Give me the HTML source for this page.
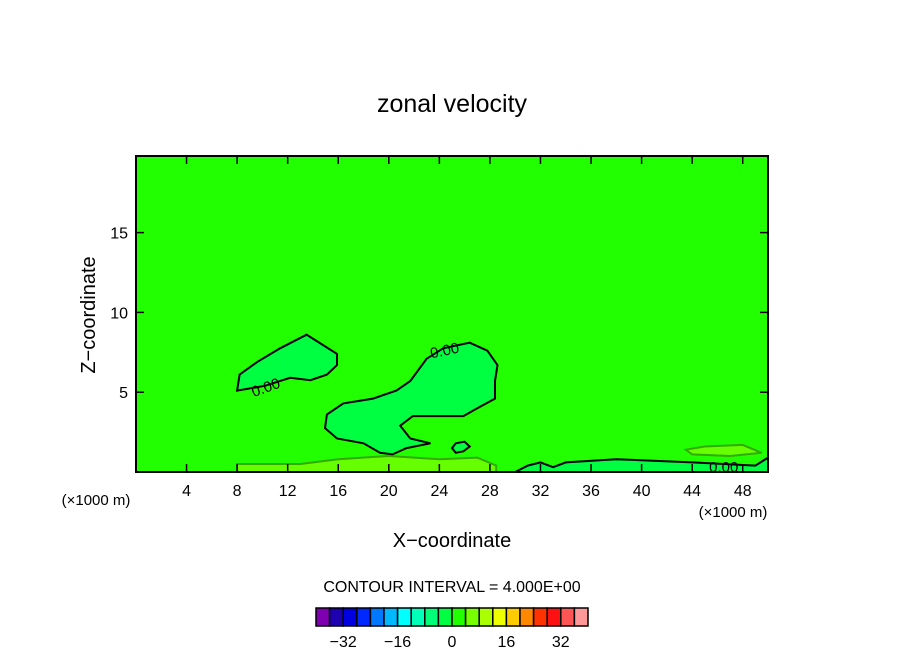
<!DOCTYPE html>
<html><head><meta charset="utf-8"><style>
html,body{margin:0;padding:0;background:#fff;}
svg text{font-family:"Liberation Sans",sans-serif;fill:#000;}
</style></head><body>
<svg id="chart" width="904" height="654" viewBox="0 0 904 654">
<text x="452" y="112" font-size="25" text-anchor="middle">zonal velocity</text>
<g id="plot"></g>
<text x="452" y="547" font-size="20" text-anchor="middle">X−coordinate</text>
<text x="95" y="315" font-size="20" text-anchor="middle" transform="rotate(-90 95 315)">Z−coordinate</text>
<text x="96" y="505" font-size="15" text-anchor="middle">(×1000 m)</text>
<text x="733" y="517" font-size="15" text-anchor="middle">(×1000 m)</text>
<text x="452" y="592" font-size="16" text-anchor="middle">CONTOUR INTERVAL = 4.000E+00</text>
<g id="cbar"></g>
</svg>
<script>
const xTicks=[4,8,12,16,20,24,28,32,36,40,44,48];
const yTicks=[5,10,15];
const cbColors=["#7f00b0","#1f00b0","#0000e0","#0028ff","#0078ff","#00b8ff","#00ffff","#00ffb8","#00ff78","#00ff40","#22ff00","#77ff00","#aaff00","#eeff00","#ffcc00","#ff8800","#ff3300","#ff1111","#ff5555","#ff9999"];
const cbLabels=[-32,-16,0,16,32];
const blobLeft=[[8.0,5.1],[8.2,6.1],[9.6,6.9],[11.4,7.75],[13.5,8.6],[14.3,8.2],[15.9,7.4],[15.9,6.7],[15.1,6.1],[13.8,5.75],[12.2,5.9],[10.2,5.4]];
const blobMid=[[23.0,7.1],[21.7,5.7],[20.6,5.1],[18.75,4.6],[16.4,4.3],[15.1,3.6],[14.95,2.75],[15.9,2.1],[18.0,1.8],[19.3,1.2],[20.3,1.1],[21.4,1.5],[23.3,1.8],[21.7,2.1],[20.9,2.9],[21.9,3.5],[25.9,3.5],[27.0,4.0],[28.4,4.6],[28.4,5.7],[28.6,6.7],[27.8,7.6],[26.4,8.1],[24.3,7.75]];
const blobSmall=[[25.3,1.2],[25.9,1.3],[26.4,1.6],[26.0,1.9],[25.3,1.8],[25.0,1.5]];
const bandLeft=[[8,0],[8,0.5],[13,0.5],[16,0.8],[20,1.0],[24,0.8],[27,0.9],[28.5,0.4],[28.5,0]];
const bandRight=[[30,0],[31,0.4],[32,0.6],[33,0.3],[34,0.6],[38,0.8],[44,0.6],[49,0.4],[50,0.9],[50,0]];
const bandRight2=[[43.5,1.4],[45,1.6],[48,1.7],[49.5,1.2],[47,1.0],[44,1.1]];
const xMin=0,xMax=50,yMin=0,yMax=19.8;
const L=136,R=768,T=156,B=472;
function sx(v){return L+(v-xMin)/(xMax-xMin)*(R-L);}
function sy(v){return B-(v-yMin)/(yMax-yMin)*(B-T);}
const NS="http://www.w3.org/2000/svg";
const plot=document.getElementById('plot');
function mk(tag,attrs,parent){const e=document.createElementNS(NS,tag);for(const k in attrs)e.setAttribute(k,attrs[k]);parent.appendChild(e);return e;}
let r=mk('rect',{x:L,y:T,width:R-L,height:B-T,fill:'#22ff00'},plot);


function poly(pts,fill,stroke,name){const d='M'+pts.map(p=>sx(p[0]).toFixed(1)+','+sy(p[1]).toFixed(1)).join('L')+'Z';const p=mk('path',{d:d,fill:fill,stroke:stroke,'stroke-width':2},plot);

}
poly(bandLeft,'#66ff00','#33aa00','bottom-band-positive');
poly(bandRight,'#00ff40','#000','bottom-band-negative');
poly(bandRight2,'#66ff00','#33aa00','bottom-band-right');
poly(blobLeft,'#00ff40','#000','contour-blob-left');
poly(blobMid,'#00ff40','#000','contour-blob-center');
poly(blobSmall,'#00ff40','#000','contour-blob-small');
function lbl(x,y,rot,name){const t=mk('text',{x:sx(x),y:sy(y),'font-size':15,'text-anchor':'middle',transform:'rotate('+rot+' '+sx(x)+' '+sy(y)+')'},plot);t.textContent='0.00';

}
lbl(10.4,5.0,-20,'contour-label-left');
lbl(24.5,7.3,-12,'contour-label-center');
lbl(46.5,0.0,0,'contour-label-right');
let fr=mk('rect',{x:L,y:T,width:R-L,height:B-T,fill:'none',stroke:'#000','stroke-width':2},plot);


xTicks.forEach(v=>{mk('line',{x1:sx(v),x2:sx(v),y1:B,y2:B-8,stroke:'#000','stroke-width':1.5},plot);mk('line',{x1:sx(v),x2:sx(v),y1:T,y2:T+8,stroke:'#000','stroke-width':1.5},plot);
const t=mk('text',{x:sx(v),y:B+24,'font-size':16,'text-anchor':'middle'},plot);t.textContent=v;

});
yTicks.forEach(v=>{mk('line',{x1:L,x2:L+8,y1:sy(v),y2:sy(v),stroke:'#000','stroke-width':1.5},plot);mk('line',{x1:R,x2:R-8,y1:sy(v),y2:sy(v),stroke:'#000','stroke-width':1.5},plot);
const t=mk('text',{x:L-8,y:sy(v)+6,'font-size':16,'text-anchor':'end'},plot);t.textContent=v;

});
const cb=document.getElementById('cbar');
const cbL=316,cbR=588,cbT=608,cbB=626,bw=(cbR-cbL)/cbColors.length;
cbColors.forEach((c,i)=>{const b=mk('rect',{x:cbL+i*bw,y:cbT,width:bw,height:cbB-cbT,fill:c,stroke:'#000','stroke-width':1.5},cb);

});
function cbx(v){return cbL+(v+40)/80*(cbR-cbL);}
cbLabels.forEach(v=>{const t=mk('text',{x:cbx(v),y:647,'font-size':16,'text-anchor':'middle'},cb);t.textContent=(v<0?'−'+(-v):v);

});
</script>
</body></html>
